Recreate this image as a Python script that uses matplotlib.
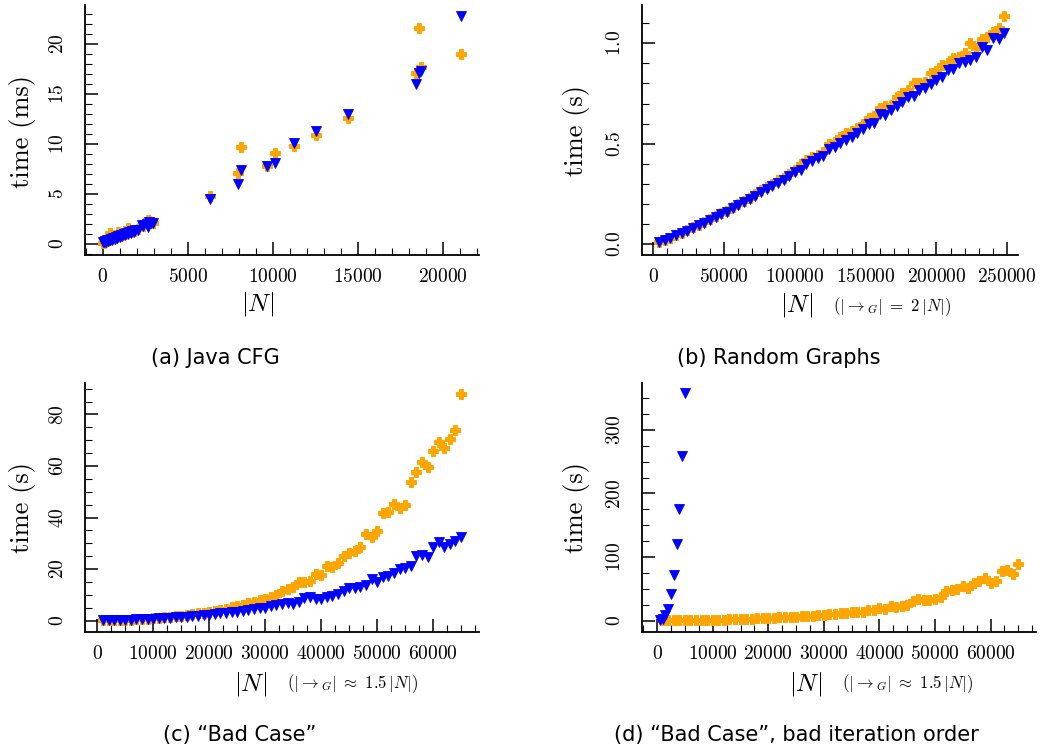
import matplotlib
matplotlib.use('Agg')
import matplotlib.pyplot as plt
from matplotlib.ticker import MultipleLocator

plt.rcParams['font.family'] = 'serif'
plt.rcParams['font.serif'] = ['cmr10']
plt.rcParams['mathtext.fontset'] = 'cm'
plt.rcParams['axes.formatter.use_mathtext'] = True

# (a) Java CFG  -- time in ms
java_n = [20, 60, 110, 150, 200, 260, 310, 380, 430, 500, 560, 620, 700, 780, 850,
          920, 1000, 1080, 1150, 1230, 1320, 1400, 1470, 1560, 1650, 1740, 1830, 1920,
          2050, 2290, 2350, 2590, 2690, 2730, 2820, 2980, 6310, 7960, 8120, 9650,
          10120, 11250, 12550, 14450, 18450, 18600, 18700, 21080]
java_orange = [0.05, 0.1, 0.15, 0.2, 0.22, 0.3, 0.32, 0.4, 1.07, 0.45, 0.5, 0.55, 0.58,
               0.62, 0.7, 1.17, 0.78, 0.82, 0.9, 0.92, 1.0, 1.05, 1.6, 1.12, 1.2, 1.25,
               1.3, 1.35, 1.45, 1.9, 1.8, 2.1, 2.4, 2.3, 2.2, 2.1, 4.75, 7.02, 9.63, 7.8,
               9.03, 9.8, 10.87, 12.54, 17.1, 21.6, 17.7, 19.0]
java_blue = [0.12, 0.2, 0.14, 0.25, 0.2, 0.32, 0.26, 0.4, 0.33, 0.47, 0.4, 0.55, 0.5,
             0.65, 0.58, 0.74, 0.68, 0.84, 0.77, 0.94, 0.86, 1.04, 0.96, 1.14, 1.06, 1.24,
             1.16, 1.33, 1.4, 1.83, 1.74, 2.0, 1.66, 2.2, 2.1, 2.05, 4.48, 5.95, 7.36, 7.76,
             8.1, 10.1, 11.3, 13.0, 16.0, 17.1, 17.3, 22.8]

# (b) Random graphs -- time in s
rand_n = [4000, 8000, 12000, 16000, 20000, 24000, 28000, 32000, 36000, 40000,
          44000, 48000, 52000, 56000, 60000, 64000, 68000, 72000, 76000, 80000,
          84000, 88000, 92000, 96000, 100000, 104000, 108000, 112000, 116000, 120000,
          124000, 128000, 132000, 136000, 140000, 144000, 148000, 152000, 156000, 160000,
          164000, 168000, 172000, 176000, 180000, 184000, 188000, 192000, 196000, 200000,
          204000, 208000, 212000, 216000, 220000, 224000, 228000, 232000, 236000, 240000,
          244000, 248000]
rand_orange = [0.010, 0.020, 0.032, 0.046, 0.058, 0.070, 0.084, 0.098, 0.112, 0.125,
               0.140, 0.155, 0.168, 0.184, 0.200, 0.215, 0.232, 0.250, 0.268, 0.283,
               0.298, 0.318, 0.332, 0.352, 0.368, 0.400, 0.420, 0.432, 0.445, 0.460,
               0.499, 0.511, 0.536, 0.552, 0.564, 0.577, 0.599, 0.627, 0.638, 0.680,
               0.688, 0.693, 0.731, 0.751, 0.768, 0.801, 0.804, 0.809, 0.851, 0.862,
               0.892, 0.904, 0.928, 0.930, 0.950, 1.003, 0.978, 1.020, 1.029, 1.054,
               1.078, 1.133]
rand_blue = [0.012, 0.021, 0.033, 0.045, 0.055, 0.068, 0.081, 0.096, 0.108, 0.121,
             0.137, 0.151, 0.162, 0.179, 0.196, 0.210, 0.224, 0.240, 0.262, 0.275,
             0.288, 0.307, 0.320, 0.341, 0.361, 0.370, 0.399, 0.414, 0.431, 0.441,
             0.473, 0.485, 0.506, 0.519, 0.536, 0.555, 0.572, 0.597, 0.605, 0.648,
             0.643, 0.668, 0.688, 0.709, 0.731, 0.739, 0.768, 0.776, 0.797, 0.817,
             0.834, 0.867, 0.870, 0.903, 0.908, 0.916, 0.930, 0.983, 0.966, 1.028,
             1.020, 1.050]

# (c) "Bad Case" and (d) bad iteration order -- time in s
bad_n = [1000, 2000, 3000, 4000, 5000, 6000, 7000, 8000, 9000, 10000,
         11000, 12000, 13000, 14000, 15000, 16000, 17000, 18000, 19000, 20000,
         21000, 22000, 23000, 24000, 25000, 26000, 27000, 28000, 29000, 30000,
         31000, 32000, 33000, 34000, 35000, 36000, 37000, 38000, 39000, 40000,
         41000, 42000, 43000, 44000, 45000, 46000, 47000, 48000, 49000, 50000,
         51000, 52000, 53000, 54000, 55000, 56000, 57000, 58000, 59000, 60000,
         61000, 62000, 63000, 64000, 65000]
bad_orange = [0.1, 0.1, 0.2, 0.2, 0.3, 0.4, 0.5, 0.6, 0.8, 0.9, 1.1, 1.3, 1.5, 1.7, 2.0,
              2.2, 2.5, 2.8, 3.1, 3.5, 3.9, 4.3, 4.7, 5.2, 5.6, 6.2, 6.8, 7.3, 7.9, 8.6,
              9.3, 10.0, 11.5, 12.1, 13.2, 15.1, 15.1, 15.4, 18.1, 17.7, 21.3, 20.9, 22.2,
              25.2, 26.1, 27.1, 28.7, 33.6, 32.6, 34.9, 41.9, 42.0, 45.1, 43.6, 44.8,
              53.6, 57.5, 61.7, 59.7, 65.9, 69.4, 67.1, 70.4, 73.9, 87.9]
bad_blue = [0.2, 0.2, 0.3, 0.3, 0.4, 0.4, 0.5, 0.6, 0.7, 0.8, 0.9, 1.0, 1.2, 1.3, 1.5,
            1.6, 1.8, 2.0, 2.2, 2.3, 2.5, 2.8, 3.0, 3.3, 3.5, 3.8, 4.2, 4.5, 4.8, 5.1,
            5.6, 6.0, 6.5, 6.7, 6.3, 7.4, 8.7, 9.3, 8.4, 8.4, 9.0, 9.6, 10.2, 11.5, 12.5,
            12.5, 13.2, 13.8, 16.2, 15.1, 16.8, 17.3, 18.6, 19.9, 20.6, 21.3, 25.1, 25.5,
            24.6, 28.4, 30.6, 28.4, 29.7, 31.0, 32.3]
order_orange = [0.5, 0.4, 0.5, 0.6, 0.7, 0.8, 0.9, 1.1, 1.2, 1.4, 1.6, 1.8, 2.0, 2.3,
                2.6, 2.9, 3.1, 3.5, 3.8, 4.2, 4.6, 5.0, 5.4, 5.8, 6.2, 6.7, 7.2, 7.8, 8.4,
                9.0, 10.0, 10.6, 11.6, 11.6, 14.2, 14.2, 14.2, 16.9, 16.9, 19.5, 18.4,
                23.1, 22.1, 23.1, 24.7, 31.0, 33.6, 32.6, 32.6, 34.2, 36.8, 46.8, 48.3,
                49.9, 54.6, 51.0, 59.9, 62.5, 66.7, 59.9, 62.5, 78.3, 79.8, 73.0, 89.2]
order_blue_n = [500, 1000, 1500, 2000, 2500, 3000, 3500, 4000, 4500, 5000]
order_blue = [1, 3, 9, 19, 42, 72, 120, 175, 259, 358]

W, H = 1046, 753
fig = plt.figure(figsize=(W / 100, H / 100), dpi=100)


def add_ax(left, top, right, bottom):
    return fig.add_axes([left / W, 1 - bottom / H, (right - left) / W, (bottom - top) / H])


def style(ax, xlim, ylim, xmaj, xmin, ymaj, ymin):
    ax.spines['top'].set_visible(False)
    ax.spines['right'].set_visible(False)
    ax.spines['left'].set_linewidth(1.3)
    ax.spines['bottom'].set_linewidth(1.3)
    ax.set_xlim(*xlim)
    ax.set_ylim(*ylim)
    ax.xaxis.set_major_locator(MultipleLocator(xmaj))
    ax.xaxis.set_minor_locator(MultipleLocator(xmin))
    ax.yaxis.set_major_locator(MultipleLocator(ymaj))
    ax.yaxis.set_minor_locator(MultipleLocator(ymin))
    ax.tick_params(which='both', direction='in', labelsize=14, colors='black')
    ax.tick_params(which='major', length=9.5, width=1.1)
    ax.tick_params(which='minor', length=4.8, width=0.8)
    ax.tick_params(axis='x', pad=9.5)
    ax.tick_params(axis='y', pad=13, labelrotation=90)
    plt.setp(ax.get_yticklabels(), va='center')


def pts(ax, x, y_orange, y_blue, x_blue=None):
    ax.plot(x, y_orange, 'P', color='orange', ms=6.5, mec='orange', mew=0.7, ls='none')
    ax.plot(x if x_blue is None else x_blue, y_blue, 'v', color='blue', ms=6.5,
            mec='blue', mew=0.6, ls='none')


ax_a = add_ax(85, 5, 479, 255)
pts(ax_a, java_n, java_orange, java_blue)
style(ax_a, (-1040, 22135), (-1.15, 23.9), 5000, 1000, 5, 1)

ax_b = add_ax(641.7, 5, 1018.3, 255)
pts(ax_b, rand_n, rand_orange, rand_blue)
style(ax_b, (-8200, 257800), (-0.053, 1.19), 50000, 10000, 0.5, 0.1)

ax_c = add_ax(85, 382.7, 479, 632.3)
pts(ax_c, bad_n, bad_orange, bad_blue)
style(ax_c, (-2200, 68200), (-4.5, 92.3), 10000, 2500, 20, 5)

ax_d = add_ax(642, 382.7, 1036.3, 632.3)
pts(ax_d, bad_n, order_orange, order_blue, order_blue_n)
style(ax_d, (-2725, 68225), (-18.3, 374), 10000, 2500, 100, 25)


def ftext(x, y, s, **kw):
    fig.text(x / W, 1 - y / H, s, **kw)


# y labels
ftext(23, 131, 'time (ms)', fontsize=19, rotation=90, ha='center', va='center')
ftext(576, 131, 'time (s)', fontsize=19, rotation=90, ha='center', va='center')
ftext(22.5, 507.5, 'time (s)', fontsize=19, rotation=90, ha='center', va='center')
ftext(576, 507.5, 'time (s)', fontsize=19, rotation=90, ha='center', va='center')

# x labels
ftext(258, 304, r'$|N|$', fontsize=18, ha='center', va='center')
ftext(797, 305, r'$|N|$', fontsize=18, ha='center', va='center')
ftext(892.5, 307, r'$(|{\rightarrow_G}|\ =\ 2\,|N|)$', fontsize=12, ha='center', va='center')
ftext(250.5, 684, r'$|N|$', fontsize=18, ha='center', va='center')
ftext(352, 684, r'$(|{\rightarrow_G}|\ \approx\ 1.5\,|N|)$', fontsize=12, ha='center', va='center')
ftext(806, 684, r'$|N|$', fontsize=18, ha='center', va='center')
ftext(907, 684, r'$(|{\rightarrow_G}|\ \approx\ 1.5\,|N|)$', fontsize=12, ha='center', va='center')

# captions
cap = dict(fontsize=15, family='DejaVu Sans', ha='center', va='baseline')
ftext(215, 364, '(a) Java CFG', **cap)
ftext(779, 364, '(b) Random Graphs', **cap)
ftext(240, 740.7, '(c) \u201cBad Case\u201d', **cap)
ftext(796, 740.7, '(d) \u201cBad Case\u201d, bad iteration order', **cap)

fig.savefig('out.png', dpi=100)
